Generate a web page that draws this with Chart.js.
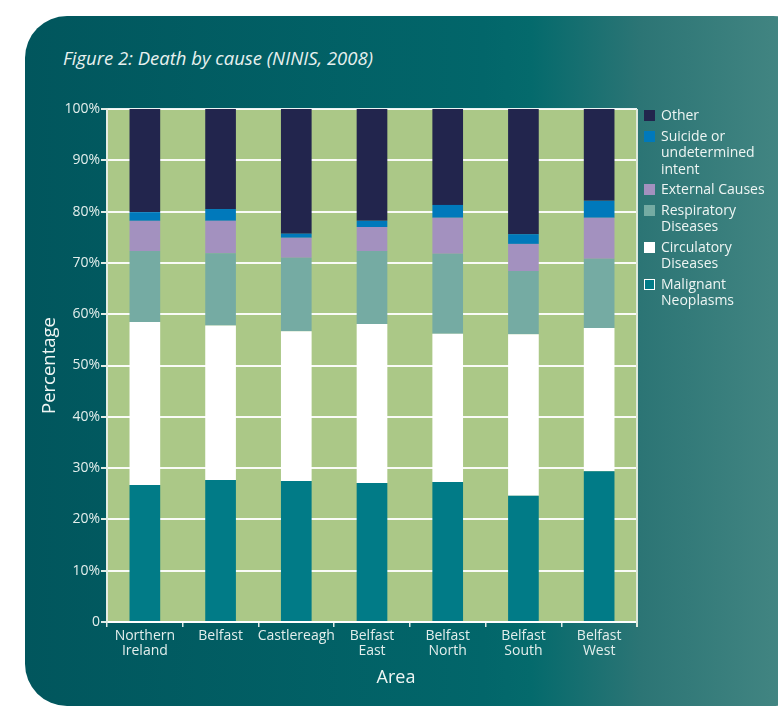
<!DOCTYPE html>
<html>
<head>
<meta charset="utf-8">
<script src="https://cdn.jsdelivr.net/npm/chart.js@4"></script>
<style>
  html, body { margin: 0; padding: 0; background: #fff; }
  #wrap { position: relative; width: 778px; height: 710px; overflow: hidden; }
  #panel {
    position: absolute; left: 25px; top: 16px; width: 790px; height: 690px;
    border-radius: 42px;
    background: linear-gradient(90deg, #01565d 0%, #02666a 58%, #046a6c 64%, #2c7575 78%, #478985 100%);
  }
  #title {
    position: absolute; left: 63px; top: 45px; margin: 0;
    font: italic 18.5px "Open Sans", sans-serif; color: #e8f1ef;
  }
  #xtitle {
    position: absolute; left: 346px; width: 100px; top: 664px; text-align: center;
    font: 18px "Open Sans", sans-serif; color: #eef5f3;
  }
  #chart { position: absolute; left: 0; top: 0; }
  #legend {
    position: absolute; left: 644px; top: 107px;
    font: 14px "Open Sans", sans-serif; color: #eef5f3; line-height: 16.5px;
  }
  .item { position: relative; padding-left: 17px; margin-bottom: 4px; }
  .box { position: absolute; left: 0; top: 3px; width: 11px; height: 11px; box-sizing: border-box; }
</style>
</head>
<body>
<div id="wrap">
  <div id="panel"></div>
  <p id="title">Figure 2: Death by cause (NINIS, 2008)</p>
  <canvas id="chart" width="778" height="710"></canvas>
  <div id="xtitle">Area</div>
  <div id="legend"></div>
</div>
<script>
// areas along the x axis
const areas = [['Northern', 'Ireland'], 'Belfast', 'Castlereagh', ['Belfast', 'East'], ['Belfast', 'North'], ['Belfast', 'South'], ['Belfast', 'West']];

// percentage of deaths by cause
const malignant   = [26.7, 27.7, 27.5, 27.1, 27.3, 24.6, 29.4];
const circulatory = [31.8, 30.1, 29.2, 31.0, 28.9, 31.5, 27.9];
const respiratory = [13.8, 14.1, 14.3, 14.2, 15.6, 12.3, 13.5];
const external    = [5.9, 6.3, 3.9, 4.7, 7.0, 5.3, 8.0];
const suicide     = [1.7, 2.3, 0.8, 1.2, 2.5, 1.9, 3.3];
const other       = [20.1, 19.5, 24.3, 21.8, 18.7, 24.4, 17.9];

const yTicks = [0, 10, 20, 30, 40, 50, 60, 70, 80, 90, 100];

const series = [
    { label: 'Malignant Neoplasms', lines: ['Malignant', 'Neoplasms'], data: malignant, color: '#017b87', edge: '#ffffff' },
    { label: 'Circulatory Diseases', lines: ['Circulatory', 'Diseases'], data: circulatory, color: '#ffffff' },
    { label: 'Respiratory Diseases', lines: ['Respiratory', 'Diseases'], data: respiratory, color: '#75aba3' },
    { label: 'External Causes', lines: ['External Causes'], data: external, color: '#a391bf' },
    { label: 'Suicide or undetermined intent', lines: ['Suicide or', 'undetermined', 'intent'], data: suicide, color: '#0079bb' },
    { label: 'Other', lines: ['Other'], data: other, color: '#22254d' },
];

const textCol = '#e3eeec';
const font = { family: '"Open Sans", sans-serif', size: 14, lineHeight: 1.1 };

// green plot background and right edge line
const plotBg = {
    id: 'plotBg',
    beforeDraw(chart) {
        const { ctx, chartArea: a } = chart;
        ctx.save();
        ctx.fillStyle = '#abc887';
        ctx.fillRect(a.left, a.top, a.right - a.left, a.bottom - a.top);
        ctx.restore();
    },
    afterDraw(chart) {
        const { ctx, chartArea: a } = chart;
        ctx.save();
        ctx.strokeStyle = '#dfe9dc';
        ctx.lineWidth = 2;
        ctx.beginPath();
        ctx.moveTo(a.right, a.top);
        ctx.lineTo(a.right, a.bottom + 5);
        ctx.stroke();
        ctx.restore();
    }
};

new Chart(document.getElementById('chart'), {
    type: 'bar',
    data: {
        labels: areas,
        datasets: series.map(s => ({
            label: s.label,
            data: s.data,
            backgroundColor: s.color,
            borderWidth: 0,
            barPercentage: 0.405,
            categoryPercentage: 1,
        })),
    },
    options: {
        responsive: false,
        animation: false,
        layout: { padding: { left: 36, top: 109, right: 141, bottom: 24 } },
        plugins: { legend: { display: false }, tooltip: { enabled: false } },
        scales: {
            x: {
                stacked: true,
                grid: { display: true, drawOnChartArea: false, offset: true, tickLength: 5, color: '#dfe9e5', lineWidth: 1.5 },
                border: { display: true, color: '#ffffff', width: 2 },
                ticks: { color: textCol, font: font, padding: 1, maxRotation: 0, autoSkip: false },
                afterFit: s => { s.height = 64; },
            },
            y: {
                stacked: true,
                min: 0,
                max: 100,
                afterBuildTicks: s => { s.ticks = yTicks.map(v => ({ value: v })); },
                grid: { color: 'rgba(255,255,255,0.92)', lineWidth: 2, tickLength: 6, tickColor: '#dfe9e5' },
                border: { display: true, color: '#e4ede4', width: 2 },
                ticks: { color: textCol, font: font, padding: 1, callback: v => v === 0 ? '0' : v + '%' },
                title: { display: true, text: 'Percentage', color: '#eef5f3', font: { family: '"Open Sans", sans-serif', size: 18.5 }, padding: { top: 3, bottom: 0 } },
                afterFit: s => { s.width = 71; },
            },
        },
    },
    plugins: [plotBg],
});

// legend, top to bottom = top of stack first
const legend = document.getElementById('legend');
series.slice().reverse().forEach(s => {
    const it = document.createElement('div');
    it.className = 'item';
    const b = document.createElement('span');
    b.className = 'box';
    b.style.background = s.color;
    if (s.edge) b.style.border = '1.5px solid ' + s.edge;
    it.appendChild(b);
    it.insertAdjacentHTML('beforeend', s.lines.join('<br>'));
    legend.appendChild(it);
});
</script>
</body>
</html>
